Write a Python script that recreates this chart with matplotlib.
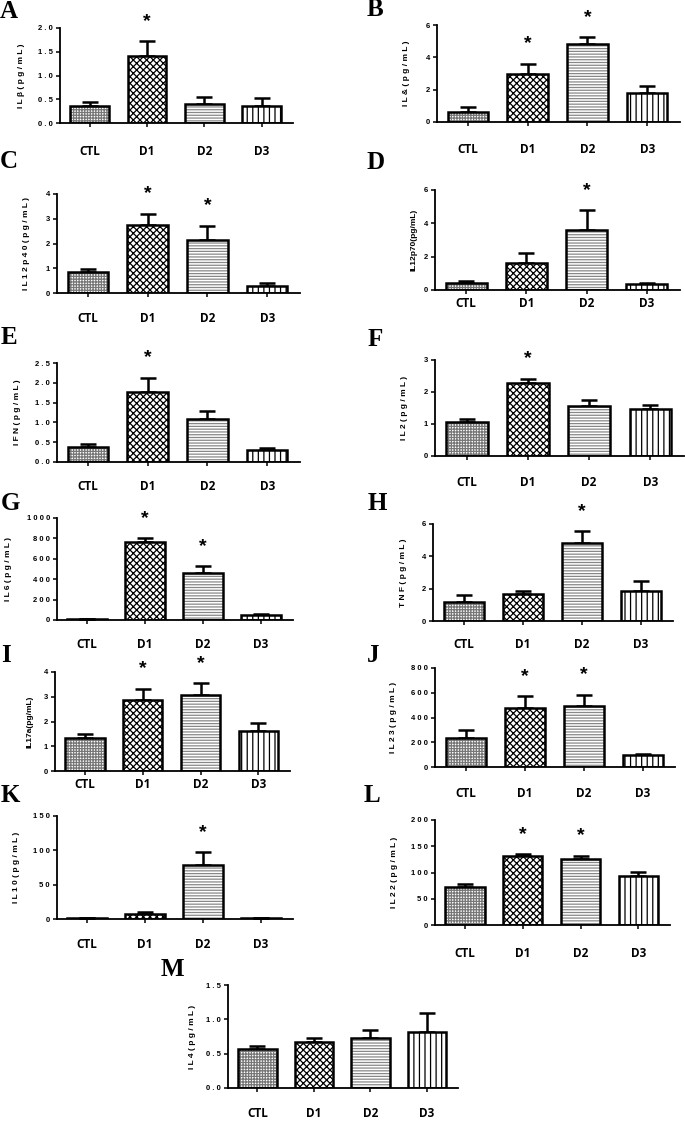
import matplotlib
matplotlib.use("Agg")
import matplotlib.pyplot as plt

# figure size in pixels, dpi 100
W, H = 685, 1128

groups = ["CTL", "D1", "D2", "D3"]

# mean and error (CTL, D1, D2, D3)
il1b_mean = [0.35, 1.42, 0.40, 0.35]
il1b_err = [0.10, 0.30, 0.14, 0.17]
il1a_mean = [0.62, 2.95, 4.80, 1.78]
il1a_err = [0.32, 0.65, 0.45, 0.45]
il12p40_mean = [0.85, 2.75, 2.15, 0.30]
il12p40_err = [0.12, 0.45, 0.57, 0.10]
il12p70_mean = [0.45, 1.60, 3.60, 0.35]
il12p70_err = [0.12, 0.65, 1.20, 0.10]
ifn_mean = [0.38, 1.78, 1.08, 0.31]
ifn_err = [0.08, 0.35, 0.22, 0.05]
il2_mean = [1.05, 2.27, 1.57, 1.47]
il2_err = [0.12, 0.15, 0.18, 0.12]
il6_mean = [5, 765, 460, 45]
il6_err = [3, 40, 70, 10]
tnf_mean = [1.20, 1.70, 4.80, 1.85]
tnf_err = [0.40, 0.18, 0.75, 0.60]
il17a_mean = [1.35, 2.85, 3.08, 1.60]
il17a_err = [0.13, 0.48, 0.48, 0.35]
il23_mean = [235, 480, 495, 100]
il23_err = [65, 90, 90, 8]
il10_mean = [1, 7, 78, 1]
il10_err = [0.5, 3, 19, 0.5]
il22_mean = [72, 131, 125, 93]
il22_err = [6, 4, 7, 8]
il4_mean = [0.57, 0.67, 0.73, 0.82]
il4_err = [0.04, 0.06, 0.11, 0.27]

# (letter, ylabel, mean, err, starred groups, y ticks, tick labels)
panels = [
    ("A", "I L β ( p g / m L )", il1b_mean, il1b_err, [1],
     [0, 0.5, 1.0, 1.5, 2.0], ["0 . 0", "0 . 5", "1 . 0", "1 . 5", "2 . 0"]),
    ("B", "I L & ( p g / m L )", il1a_mean, il1a_err, [1, 2],
     [0, 2, 4, 6], ["0", "2", "4", "6"]),
    ("C", "I L 1 2 p 4 0 ( p g / m L )", il12p40_mean, il12p40_err, [1, 2],
     [0, 1, 2, 3, 4], ["0", "1", "2", "3", "4"]),
    ("D", "IL12p70(pg/mL)", il12p70_mean, il12p70_err, [2],
     [0, 2, 4, 6], ["0", "2", "4", "6"]),
    ("E", "I F N ( p g / m L )", ifn_mean, ifn_err, [1],
     [0, 0.5, 1.0, 1.5, 2.0, 2.5], ["0 . 0", "0 . 5", "1 . 0", "1 . 5", "2 . 0", "2 . 5"]),
    ("F", "I L 2 ( p g / m L )", il2_mean, il2_err, [1],
     [0, 1, 2, 3], ["0", "1", "2", "3"]),
    ("G", "I L 6 ( p g / m L )", il6_mean, il6_err, [1, 2],
     [0, 200, 400, 600, 800, 1000], ["0", "2 0 0", "4 0 0", "6 0 0", "8 0 0", "1 0 0 0"]),
    ("H", "T N F ( p g / m L )", tnf_mean, tnf_err, [2],
     [0, 2, 4, 6], ["0", "2", "4", "6"]),
    ("I", "IL17a(pg/mL)", il17a_mean, il17a_err, [1, 2],
     [0, 1, 2, 3, 4], ["0", "1", "2", "3", "4"]),
    ("J", "I L 2 3 ( p g / m L )", il23_mean, il23_err, [1, 2],
     [0, 200, 400, 600, 800], ["0", "2 0 0", "4 0 0", "6 0 0", "8 0 0"]),
    ("K", "I L 1 0 ( p g / m L )", il10_mean, il10_err, [2],
     [0, 50, 100, 150], ["0", "5 0", "1 0 0", "1 5 0"]),
    ("L", "I L 2 2 ( p g / m L )", il22_mean, il22_err, [1, 2],
     [0, 50, 100, 150, 200], ["0", "5 0", "1 0 0", "1 5 0", "2 0 0"]),
    ("M", "I L 4 ( p g / m L )", il4_mean, il4_err, [],
     [0, 0.5, 1.0, 1.5], ["0 . 0", "0 . 5", "1 . 0", "1 . 5"]),
]

# layout in pixels: axes box (left, top, right, bottom), ylabel x,
# category label offset below axis, panel letter centre
layout = {
    "A": ((60, 28, 293, 123), 25, 27, (9, 12)),
    "B": ((437, 25, 680, 122), 410, 26, (375, 10)),
    "C": ((57, 194, 300, 293), 30, 24, (9, 161)),
    "D": ((435, 190, 680, 290), 417, 12, (376, 163)),
    "E": ((57, 363, 300, 462), 21, 23, (9, 338)),
    "F": ((435, 360, 684, 456), 408, 25, (375, 340)),
    "G": ((57, 518, 293, 620), 12, 23, (10, 503)),
    "H": ((433, 524, 673, 621), 407, 22, (377, 503)),
    "I": ((55, 672, 290, 771), 34, 12, (6, 655)),
    "J": ((435, 668, 675, 767), 397, 25, (373, 655)),
    "K": ((57, 816, 293, 919), 20, 24, (10, 795)),
    "L": ((435, 820, 670, 925), 398, 27, (372, 796)),
    "M": ((228, 985, 458, 1088), 196, 24, (172, 970)),
}

# hatch / hatch colour per group
hatches = ["++++++", "xxxxx", "------", "|||"]
hatch_colors = ["#777777", "black", "#888888", "black"]

plt.rcParams["hatch.linewidth"] = 0.9
plt.rcParams["font.family"] = ["Liberation Sans", "DejaVu Sans"]

fig = plt.figure(figsize=(W / 100, H / 100), dpi=100)


def draw_panel(letter, ylabel, mean, err, stars, yticks, yticklabels):
    (left, top, right, bottom), ylab_x, lab_off, (lx, ly) = layout[letter]
    axes = fig.add_axes([left / W, 1 - bottom / H,
                         (right - left) / W, (bottom - top) / H])
    xs = list(range(len(groups)))

    # hatch fill first, then thick outline on top
    axes.bar(xs, mean, width=0.68, color="white", edgecolor=hatch_colors,
             hatch=hatches, linewidth=0, zorder=2)
    axes.bar(xs, mean, width=0.68, fill=False, edgecolor="black",
             linewidth=1.8, zorder=3)
    axes.errorbar(xs, mean, yerr=[[0] * len(err), err], fmt="none",
                  ecolor="black", elinewidth=1.8, capsize=6, capthick=1.8,
                  zorder=1, clip_on=False)

    for i in stars:
        axes.annotate("*", xy=(i, mean[i] + err[i]), xytext=(0, 11),
                      textcoords="offset points", ha="center",
                      va="baseline", fontsize=14, fontweight="bold",
                      annotation_clip=False)

    axes.set_xlim(-0.52, 3.55)
    axes.set_ylim(0, yticks[-1])
    axes.set_yticks(yticks, yticklabels)
    axes.set_xticks(xs, groups)

    for side in ["top", "right"]:
        axes.spines[side].set_visible(False)
    for side in ["left", "bottom"]:
        axes.spines[side].set_linewidth(1.3)

    axes.tick_params(axis="y", length=3, width=1.1, labelsize=5.5, pad=2)
    pad = max((lab_off - 9) / 1.389, 1)
    axes.tick_params(axis="x", length=3, width=1.1, labelsize=8.5, pad=pad)
    for t in axes.get_yticklabels():
        t.set_fontweight("bold")
    for t in axes.get_xticklabels():
        t.set_fontweight("bold")
        t.set_family(["Open Sans", "DejaVu Sans"])

    axes.set_ylabel(ylabel, fontsize=6, fontweight="bold")
    axes.yaxis.set_label_coords(-(left - ylab_x) / (right - left), 0.5)

    fig.text(lx / W, 1 - ly / H, letter, ha="center", va="center",
             fontsize=18, fontweight="bold",
             family=["Liberation Serif", "DejaVu Serif"])


for p in panels:
    draw_panel(*p)

fig.savefig("out.png", dpi=100)
